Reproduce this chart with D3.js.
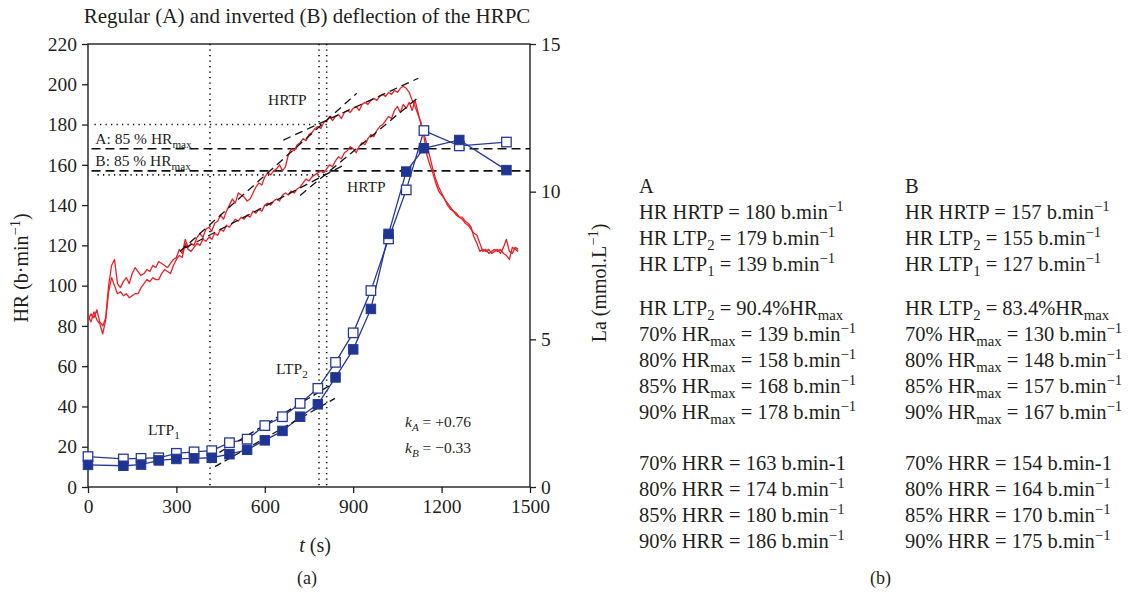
<!DOCTYPE html>
<html>
<head>
<meta charset="utf-8">
<script src="https://cdn.jsdelivr.net/npm/d3@7"></script>
<style>
  body { margin: 0; background: #fff; }
  svg text { font-family: "Liberation Serif", "DejaVu Serif", serif; fill: #231f20; white-space: pre; }
</style>
</head>
<body>
<div id="chart"></div>
<script>
// ---- data ----
// heart rate, one sample every 10 s from t = 0
const hrStep = 10;
const hrA = [83, 86, 84, 88, 82, 80, 84, 100, 110, 113, 101, 99, 102, 104, 101, 106, 109, 107, 105, 106,
  108, 107, 110, 109, 112, 111, 110, 109, 111, 113, 114, 118, 116, 123, 119, 121, 120, 124, 126, 124,
  128, 129, 127, 131, 132, 135, 133, 137, 140, 143, 141, 146, 145, 144, 142, 143, 146, 149, 151, 150,
  154, 156, 155, 157, 158, 160, 157, 159, 165, 168, 167, 170, 171, 173, 172, 175, 176, 178, 179, 178,
  181, 182, 184, 182, 184, 185, 183, 186, 187, 186, 188, 189, 187, 190, 191, 190, 192, 193, 192, 194,
  195, 194, 196, 195, 197, 196, 198, 199, 198, 196, 192, 189, 185, 181, 174, 165, 160, 156, 151, 147,
  145, 143, 140, 138, 137, 135, 134, 134, 132, 131, 129, 124, 121, 117, 118, 117, 118, 116, 117, 118,
  116, 119, 123, 117, 116, 119, 118];
const hrB = [85, 82, 87, 83, 81, 76, 83, 97, 104, 100, 96, 97, 95, 96, 94, 95, 96, 96, 99, 101,
  103, 102, 104, 103, 103, 106, 108, 107, 106, 110, 113, 115, 114, 121, 118, 117, 119, 121, 120, 123,
  122, 124, 123, 126, 125, 128, 127, 130, 129, 131, 133, 132, 134, 133, 135, 134, 137, 136, 138, 137,
  140, 141, 140, 142, 143, 142, 145, 146, 145, 147, 146, 148, 149, 151, 153, 152, 154, 155, 156, 157,
  156, 158, 160, 159, 162, 164, 163, 166, 167, 169, 168, 166, 169, 171, 170, 173, 175, 174, 177, 179,
  180, 182, 184, 183, 187, 189, 186, 190, 188, 191, 187, 192, 186, 180, 176, 170, 164, 158, 153, 149,
  146, 143, 141, 139, 137, 136, 134, 133, 131, 130, 128, 126, 125, 121, 117, 118, 116, 117, 118, 117,
  118, 116, 115, 113, 119, 118, 117];

// blood lactate samples
const lacTime = [0, 120, 180, 240, 300, 360, 420, 480, 540, 600, 660, 720, 780, 840, 900, 960, 1020, 1080, 1140, 1260, 1420];
const lacA = [1.03, 0.95, 0.97, 0.99, 1.14, 1.19, 1.23, 1.50, 1.62, 2.08, 2.38, 2.83, 3.34, 4.22, 5.22, 6.65, 8.40, 10.06, 12.07, 11.55, 11.68];
const lacB = [0.75, 0.72, 0.76, 0.90, 0.95, 0.97, 0.99, 1.11, 1.26, 1.58, 1.90, 2.38, 2.80, 3.71, 4.66, 6.03, 8.57, 10.68, 11.47, 11.75, 10.73];

// regression lines [t0, v0, t1, v1]
const hrTangents = [[312, 117, 912, 195.5], [663, 172.3, 1121, 203], [329, 118.7, 870, 160], [720, 144.8, 1121, 193.5]];
const lacTangents = [[414, 0.98, 821, 3.44], [431, 0.69, 838, 3.0]];

// threshold markers
const thresholdTimes = [414, 784, 810];
const hrtpLevels = [180, 155];
const hrmax85 = [168, 157];
const hrmax85Labels = ["A: 85 % HR_{max}", "B: 85 % HR_{max}"];

const hrTicks = [0, 20, 40, 60, 80, 100, 120, 140, 160, 180, 200, 220];
const laTicks = [0, 5, 10, 15];
const tTicks = [0, 300, 600, 900, 1200, 1500];

const panelA = ["A", "HR HRTP = 180 b.min^{−1}", "HR LTP_{2} = 179 b.min^{−1}", "HR LTP_{1} = 139 b.min^{−1}",
  "HR LTP_{2} = 90.4%HR_{max}", "70% HR_{max} = 139 b.min^{−1}", "80% HR_{max} = 158 b.min^{−1}",
  "85% HR_{max} = 168 b.min^{−1}", "90% HR_{max} = 178 b.min^{−1}",
  "70% HRR = 163 b.min-1", "80% HRR = 174 b.min^{−1}", "85% HRR = 180 b.min^{−1}", "90% HRR = 186 b.min^{−1}"];
const panelB = ["B", "HR HRTP = 157 b.min^{−1}", "HR LTP_{2} = 155 b.min^{−1}", "HR LTP_{1} = 127 b.min^{−1}",
  "HR LTP_{2} = 83.4%HR_{max}", "70% HR_{max} = 130 b.min^{−1}", "80% HR_{max} = 148 b.min^{−1}",
  "85% HR_{max} = 157 b.min^{−1}", "90% HR_{max} = 167 b.min^{−1}",
  "70% HRR = 154 b.min-1", "80% HRR = 164 b.min^{−1}", "85% HRR = 170 b.min^{−1}", "90% HRR = 175 b.min^{−1}"];
const panelRowY = [193, 219, 245, 271, 315, 341, 367, 393, 419, 470, 496, 522, 548];

// ---- layout ----
const width = 1137, height = 594;
const plot = { left: 88, right: 530, top: 44, bottom: 487 };
const red = "#ec1f26", blue = "#25399b";

const svg = d3.select("#chart").append("svg")
  .attr("width", width)
  .attr("height", height);

const x = d3.scaleLinear().domain([0, 1500]).range([plot.left, plot.right]);
const y = d3.scaleLinear().domain([0, 220]).range([plot.bottom, plot.top]);
const yLa = d3.scaleLinear().domain([0, 15]).range([plot.bottom, plot.top]);

// text with _{sub}, _i{italic sub}, ^{sup} and *italic*
function rich(sel, str, fs) {
  let off = 0;
  str.split(/(_i?\{[^}]*\}|\^\{[^}]*\}|\*[^*]*\*)/).filter(s => s.length).forEach(s => {
    let t = s, target = 0, small = false, it = false;
    if (s.startsWith("_i{")) { t = s.slice(3, -1); target = fs * 0.25; small = true; it = true; }
    else if (s.startsWith("_{")) { t = s.slice(2, -1); target = fs * 0.25; small = true; }
    else if (s.startsWith("^{")) { t = s.slice(2, -1); target = -fs * 0.4; small = true; }
    else if (s.startsWith("*")) { t = s.slice(1, -1); it = true; }
    const ts = sel.append("tspan").attr("dy", target - off).text(t);
    off = target;
    if (small) ts.attr("font-size", fs * 0.72);
    if (it) ts.attr("font-style", "italic");
  });
  return sel;
}

function label(xp, yp, str, fs, anchor) {
  const t = svg.append("text").attr("x", xp).attr("y", yp)
    .attr("font-size", fs).attr("text-anchor", anchor || "start");
  return rich(t, str, fs);
}

// title
svg.append("text").attr("x", 307).attr("y", 23).attr("text-anchor", "middle")
  .attr("font-size", 21).text("Regular (A) and inverted (B) deflection of the HRPC");

// axes
const axisL = svg.append("g").attr("transform", `translate(${plot.left},0)`)
  .call(d3.axisLeft(y).tickValues(hrTicks).tickSize(6).tickPadding(5));
const axisR = svg.append("g").attr("transform", `translate(${plot.right},0)`)
  .call(d3.axisRight(yLa).tickValues(laTicks).tickSize(6).tickPadding(5));
const axisB = svg.append("g").attr("transform", `translate(0,${plot.bottom})`)
  .call(d3.axisBottom(x).tickValues(tTicks).tickFormat(d3.format("d")).tickSize(6).tickPadding(6));
[axisL, axisR, axisB].forEach(a => {
  a.select(".domain").remove();
  a.selectAll("line").attr("stroke", "#231f20").attr("stroke-width", 1.3);
  a.selectAll("text").attr("font-size", 19.5).attr("font-family", "Liberation Serif, serif").attr("fill", "#231f20");
});

svg.append("rect")
  .attr("x", plot.left).attr("y", plot.top)
  .attr("width", plot.right - plot.left).attr("height", plot.bottom - plot.top)
  .attr("fill", "none").attr("stroke", "#231f20").attr("stroke-width", 1.4);

// axis titles
label(0, 0, "HR (b·min^{−1})", 20, "middle").attr("transform", "translate(28,268) rotate(-90)");
label(0, 0, "La (mmol.L^{−1})", 20, "middle").attr("transform", "translate(606,283) rotate(-90)");
label(315, 552, "*t* (s)", 20, "middle");
svg.append("text").attr("x", 307).attr("y", 584).attr("text-anchor", "middle").attr("font-size", 18).text("(a)");
svg.append("text").attr("x", 870).attr("y", 584).attr("font-size", 18).text("(b)");

// dotted threshold markers
svg.selectAll(".vdot").data(thresholdTimes).enter().append("line")
  .attr("x1", d => x(d)).attr("x2", d => x(d))
  .attr("y1", plot.top).attr("y2", plot.bottom)
  .attr("stroke", "#111").attr("stroke-width", 1.6).attr("stroke-dasharray", "1.3,4.2");
svg.selectAll(".hdot").data(hrtpLevels).enter().append("line")
  .attr("x1", (d, i) => x(i ? 32 : 22)).attr("x2", x(810))
  .attr("y1", d => y(d)).attr("y2", d => y(d))
  .attr("stroke", "#111").attr("stroke-width", 1.6).attr("stroke-dasharray", "1.3,4.2");

// 85 % HRmax dashed lines
svg.selectAll(".hdash").data(hrmax85).enter().append("line")
  .attr("x1", x(12)).attr("x2", plot.right)
  .attr("y1", d => y(d)).attr("y2", d => y(d))
  .attr("stroke", "#111").attr("stroke-width", 1.6).attr("stroke-dasharray", "9,5");
hrmax85Labels.forEach((s, i) => label(x(25), y(hrmax85[i]) - 5, s, 15.5));

// heart rate curves
const hrLine = d3.line().x((d, i) => x(i * hrStep)).y(d => y(d));
[hrB, hrA].forEach(s => {
  svg.append("path").datum(s).attr("d", hrLine)
    .attr("fill", "none").attr("stroke", red).attr("stroke-width", 1.3).attr("stroke-linejoin", "round");
});

// regression lines
svg.selectAll(".hrtan").data(hrTangents).enter().append("line")
  .attr("x1", d => x(d[0])).attr("y1", d => y(d[1]))
  .attr("x2", d => x(d[2])).attr("y2", d => y(d[3]))
  .attr("stroke", "#111").attr("stroke-width", 1.3).attr("stroke-dasharray", "8,5");

// lactate curves
const lacLine = d3.line().x((d, i) => x(lacTime[i])).y(d => yLa(d));
[lacA, lacB].forEach(s => {
  svg.append("path").datum(s).attr("d", lacLine)
    .attr("fill", "none").attr("stroke", blue).attr("stroke-width", 1.3);
});
svg.selectAll(".lactan").data(lacTangents).enter().append("line")
  .attr("x1", d => x(d[0])).attr("y1", d => yLa(d[1]))
  .attr("x2", d => x(d[2])).attr("y2", d => yLa(d[3]))
  .attr("stroke", "#111").attr("stroke-width", 1.3).attr("stroke-dasharray", "7,4");

const sq = 9.5;
svg.selectAll(".sqA").data(lacA).enter().append("rect")
  .attr("x", (d, i) => x(lacTime[i]) - sq / 2).attr("y", d => yLa(d) - sq / 2)
  .attr("width", sq).attr("height", sq)
  .attr("fill", "#fff").attr("stroke", blue).attr("stroke-width", 1.3);
svg.selectAll(".sqB").data(lacB).enter().append("rect")
  .attr("x", (d, i) => x(lacTime[i]) - sq / 2).attr("y", d => yLa(d) - sq / 2)
  .attr("width", sq).attr("height", sq)
  .attr("fill", "#1f3592").attr("stroke", blue).attr("stroke-width", 1);

// annotations
label(268, 105, "HRTP", 15.5);
label(347, 192, "HRTP", 15.5);
label(148, 435, "LTP_{1}", 15.5);
label(276, 374, "LTP_{2}", 15.5);
label(405, 427, "*k*_i{A} = +0.76", 15.5);
label(405, 453, "*k*_i{B} = −0.33", 15.5);

// right-hand summary panel
panelA.forEach((s, i) => label(639, panelRowY[i], s, 20.5));
panelB.forEach((s, i) => label(905, panelRowY[i], s, 20.5));
</script>
</body>
</html>
